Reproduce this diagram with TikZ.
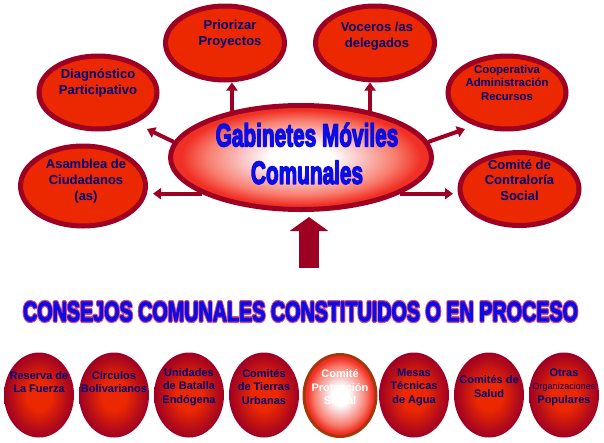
\documentclass[tikz,border=0pt]{standalone}
\usepackage{fontspec}
\setmainfont{Liberation Sans}
\usepackage{graphicx}
\usetikzlibrary{arrows.meta,shapes.geometric,calc}
\definecolor{crimson}{RGB}{158,0,36}
\definecolor{flame}{RGB}{235,40,0}
\definecolor{deepnavy}{RGB}{0,0,120}
\definecolor{gabblue}{RGB}{12,12,230}
\definecolor{rust}{RGB}{165,55,10}
\definecolor{blush}{RGB}{250,200,200}
\definecolor{salmon}{RGB}{248,125,110}
\definecolor{scarlet}{RGB}{240,48,36}
\pgfdeclareradialshading{glow}{\pgfpoint{0bp}{0bp}}{color(0bp)=(white); color(6bp)=(white); color(11bp)=(blush); color(18bp)=(salmon); color(23bp)=(scarlet); color(50bp)=(scarlet)}
\pgfdeclareradialshading{ember}{\pgfpoint{0bp}{0bp}}{color(0bp)=(flame); color(9bp)=(flame); color(25bp)=(crimson); color(50bp)=(crimson)}
\newcommand{\narrowtext}[2]{\scalebox{#1}[1]{#2}}
% letras gruesas: relleno + trazo (#1 grosor, #2 color del trazo en PDF)
\newcommand{\strokedtext}[3]{\special{pdf:literal direct 2 Tr 1 j #1 w #2}#3\special{pdf:literal direct 0 Tr 0 j}}
% solo contorno, para el borde rosa del titulo
\newcommand{\rimtext}[3]{\special{pdf:literal direct 1 Tr 1 j #1 w #2}#3\special{pdf:literal direct 0 Tr 0 j}}
\tikzset{
  >={Triangle[width=11pt,length=8pt]},
  bubble/.style={ellipse,draw=crimson,line width=5pt,fill=flame,inner sep=0pt,
    minimum width=119pt,minimum height=74pt},
  bubble text/.style={text=deepnavy,font=\bfseries\fontsize{13}{16}\selectfont,align=center,inner sep=0pt},
  link/.style={->,line width=4pt,draw=crimson},
  big link/.style={-{Triangle[width=38pt,length=14pt]},line width=20pt,draw=crimson},
  hub/.style={ellipse,draw=crimson,line width=5pt,shading=glow,inner sep=0pt,
    minimum width=261pt,minimum height=104pt},
  hub text/.style={text=gabblue,font=\bfseries\fontsize{32}{37.5}\selectfont,align=center,inner sep=0pt},
  headline/.style={text=gabblue,font=\bfseries\fontsize{28}{30}\selectfont,inner sep=0pt},
  consejo/.style={ellipse,shading=ember,inner sep=0pt,minimum width=70pt,minimum height=85pt},
  consejo text/.style={text=deepnavy,font=\bfseries\fontsize{11}{13.5}\selectfont,align=center,inner sep=0pt},
}
\begin{document}
\begin{tikzpicture}[x=1pt,y=-1pt]
  \useasboundingbox (0,0) rectangle (604,442);
  % gabinete y sus ramas
  \node[hub] (gab) at (301,157.5) {};
  \node[hub text] (gab-t) at ([shift={(6pt,4pt)}]gab)
    {\strokedtext{1.6}{0.05 0.05 0.9 RG}{\narrowtext{0.65}{Gabinetes Móviles}}\\\strokedtext{1.6}{0.05 0.05 0.9 RG}{\narrowtext{0.65}{Comunales}}};
  \node[bubble] (prio) at (225,43) {};
  \node[bubble text] (prio-t) at ([shift={(5pt,8.5pt)}]prio) {Priorizar\\Proyectos};
  \node[bubble] (voc) at (375,43) {};
  \node[bubble text] (voc-t) at ([shift={(2pt,6.5pt)}]voc) {Voceros /as\\delegados};
  \node[bubble,minimum width=118pt,minimum height=73pt] (diag) at (98,92.5) {};
  \node[bubble text] (diag-t) at ([yshift=9pt]diag) {Diagnóstico\\Participativo};
  \node[bubble,minimum width=118pt,minimum height=73pt] (coop) at (507,92.5) {};
  \node[bubble text,font=\bfseries\fontsize{11.4}{13.5}\selectfont] (coop-t) at ([yshift=10pt]coop) {Cooperativa\\Administración\\Recursos};
  \node[bubble,minimum width=125pt,minimum height=80pt] (asam) at (83,186) {};
  \node[bubble text] (asam-t) at ([shift={(3pt,5pt)}]asam) {Asamblea de\\Ciudadanos\\(as)};
  \node[bubble,minimum width=119pt,minimum height=73pt] (contra) at (519.5,189) {};
  \node[bubble text,font=\bfseries\fontsize{13}{15.5}\selectfont] (contra-t) at ([yshift=9pt]contra) {Comité de\\Contraloría\\Social};
  \coordinate (diagtip) at (147,129);
  \coordinate (cooptip) at (465,129);
  \coordinate (asamtip) at (153,194);
  \coordinate (contratip) at (453,194);
  \draw[link] (gab.146) -- (gab.146 |- prio.south);
  \draw[link] (gab.34) -- (gab.34 |- voc.south);
  \draw[link] (gab.173) -- (diagtip);
  \draw[link] (gab.7) -- (cooptip);
  \draw[link] (gab.200) -- (gab.200 -| asamtip);
  \draw[link] (gab.340) -- (gab.340 -| contratip);
  % flecha grande
  \coordinate (foot) at (309,268);
  \draw[big link] (foot) -- ($(foot |- gab.south)+(0,5)$);
  % titulo
  \node[headline] (title) at (300.5,311.5)
    {\narrowtext{0.705}{\rlap{\rimtext{3.6}{0.85 0.3 0.5 RG}{CONSEJOS COMUNALES CONSTITUIDOS O EN PROCESO}}\strokedtext{1}{0.05 0.05 0.9 RG}{CONSEJOS COMUNALES CONSTITUIDOS O EN PROCESO}}};
  % consejos
  \foreach \i/\txt/\dy in {0/{Reserva de\\La Fuerza}/13, 1/{Círculos\\Bolivarianos}/13,
      2/{Unidades\\de Batalla\\Endógena}/8, 3/{Comités\\de Tierras\\Urbanas}/8,
      5/{Mesas\\Técnicas\\de Agua}/8, 6/{Comités de\\Salud}/8.5,
      7/{Otras\\{\mdseries\fontsize{9}{11}\selectfont Organizaciones}\\Populares}/8} {
    \node[consejo] (cc\i) at ({39+75*\i},395) {};
    \node[consejo text] (cc\i-t) at ([yshift=\dy pt]cc\i) {\txt};
  }
  \node[consejo,shading=glow,draw=rust,line width=3pt,minimum width=72pt,minimum height=82pt] (cc4) at (340,395.5) {};
  \node[consejo text,text=white] (cc4-t) at ([yshift=8pt]cc4) {Comité\\Protección\\Social};
\end{tikzpicture}
\end{document}
